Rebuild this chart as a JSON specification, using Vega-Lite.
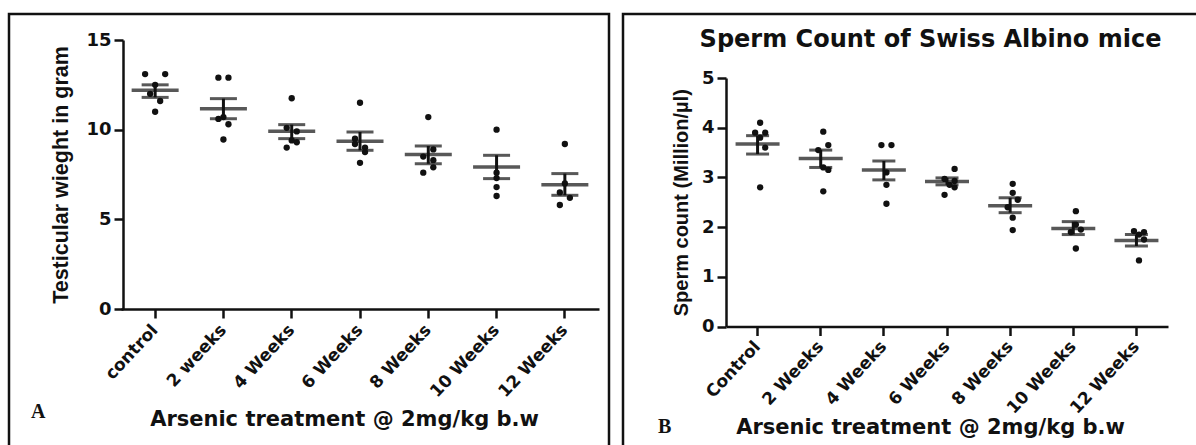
{
  "$schema": "https://vega.github.io/schema/vega-lite/v6.json",
  "background": "white",
  "padding": {"left": 7, "top": 12, "right": 0, "bottom": 0},
  "spacing": 10,
  "config": {
    "view": {"stroke": "#111", "strokeWidth": 2.5},
    "axis": {"grid": false, "domainColor": "#111", "domainWidth": 2.5, "tickColor": "#111", "tickWidth": 2.5, "tickSize": 9,
      "labelColor": "#111", "labelFont": "DejaVu Sans", "labelFontWeight": "bold", "labelFontSize": 17,
      "titleColor": "#111", "titleFont": "DejaVu Sans", "titleFontWeight": "bold", "titleFontSize": 21},
    "axisY": {"titleFont": "Liberation Sans", "titleFontSize": 20, "labelFontSize": 18, "labelPadding": 3},
    "title": {"color": "#111"}
  },
  "datasets": {
    "dotsA": [
      {"group": "control", "value": 13.1, "slot": -2}, {"group": "control", "value": 13.1, "slot": 2},
      {"group": "control", "value": 12.5, "slot": 0}, {"group": "control", "value": 12.0, "slot": -1},
      {"group": "control", "value": 11.6, "slot": 1}, {"group": "control", "value": 11.0, "slot": 0},
      {"group": "2 weeks", "value": 12.9, "slot": -1}, {"group": "2 weeks", "value": 12.9, "slot": 1},
      {"group": "2 weeks", "value": 10.7, "slot": 0}, {"group": "2 weeks", "value": 10.6, "slot": -1},
      {"group": "2 weeks", "value": 10.3, "slot": 1}, {"group": "2 weeks", "value": 9.45, "slot": 0},
      {"group": "4 Weeks", "value": 11.75, "slot": 0}, {"group": "4 Weeks", "value": 10.1, "slot": -1},
      {"group": "4 Weeks", "value": 9.9, "slot": 1}, {"group": "4 Weeks", "value": 9.4, "slot": 0},
      {"group": "4 Weeks", "value": 9.3, "slot": 1}, {"group": "4 Weeks", "value": 9.0, "slot": -1},
      {"group": "6 Weeks", "value": 11.5, "slot": 0}, {"group": "6 Weeks", "value": 9.5, "slot": -1},
      {"group": "6 Weeks", "value": 9.2, "slot": -1}, {"group": "6 Weeks", "value": 9.0, "slot": 1},
      {"group": "6 Weeks", "value": 8.75, "slot": 1}, {"group": "6 Weeks", "value": 8.15, "slot": 0},
      {"group": "8 Weeks", "value": 10.7, "slot": 0}, {"group": "8 Weeks", "value": 8.9, "slot": 1},
      {"group": "8 Weeks", "value": 8.5, "slot": -1}, {"group": "8 Weeks", "value": 8.3, "slot": 1},
      {"group": "8 Weeks", "value": 7.9, "slot": 1}, {"group": "8 Weeks", "value": 7.6, "slot": -1},
      {"group": "10 Weeks", "value": 10.0, "slot": 0}, {"group": "10 Weeks", "value": 7.6, "slot": 0},
      {"group": "10 Weeks", "value": 7.3, "slot": 0}, {"group": "10 Weeks", "value": 6.8, "slot": 0},
      {"group": "10 Weeks", "value": 6.3, "slot": 0},
      {"group": "12 Weeks", "value": 9.2, "slot": 0}, {"group": "12 Weeks", "value": 7.0, "slot": 0},
      {"group": "12 Weeks", "value": 6.5, "slot": -1}, {"group": "12 Weeks", "value": 6.2, "slot": 1},
      {"group": "12 Weeks", "value": 5.8, "slot": -1}
    ],
    "sumA": [
      {"group": "control", "mean": 12.2, "lo": 11.8, "hi": 12.5},
      {"group": "2 weeks", "mean": 11.17, "lo": 10.61, "hi": 11.73},
      {"group": "4 Weeks", "mean": 9.91, "lo": 9.5, "hi": 10.28},
      {"group": "6 Weeks", "mean": 9.35, "lo": 8.85, "hi": 9.87},
      {"group": "8 Weeks", "mean": 8.61, "lo": 8.1, "hi": 9.09},
      {"group": "10 Weeks", "mean": 7.92, "lo": 7.27, "hi": 8.57},
      {"group": "12 Weeks", "mean": 6.93, "lo": 6.34, "hi": 7.55}
    ],
    "dotsB": [
      {"group": "Control", "value": 4.1, "slot": 0}, {"group": "Control", "value": 3.9, "slot": -1},
      {"group": "Control", "value": 3.9, "slot": 1}, {"group": "Control", "value": 3.8, "slot": 0},
      {"group": "Control", "value": 3.6, "slot": 1}, {"group": "Control", "value": 2.8, "slot": 0},
      {"group": "2 Weeks", "value": 3.92, "slot": 0}, {"group": "2 Weeks", "value": 3.65, "slot": 1},
      {"group": "2 Weeks", "value": 3.55, "slot": -1}, {"group": "2 Weeks", "value": 3.2, "slot": 0},
      {"group": "2 Weeks", "value": 3.15, "slot": 1}, {"group": "2 Weeks", "value": 2.72, "slot": 0},
      {"group": "4 Weeks", "value": 3.65, "slot": -1}, {"group": "4 Weeks", "value": 3.65, "slot": 1},
      {"group": "4 Weeks", "value": 3.1, "slot": 0}, {"group": "4 Weeks", "value": 2.85, "slot": 0},
      {"group": "4 Weeks", "value": 2.47, "slot": 0},
      {"group": "6 Weeks", "value": 3.17, "slot": 1}, {"group": "6 Weeks", "value": 2.97, "slot": -1},
      {"group": "6 Weeks", "value": 2.93, "slot": 1}, {"group": "6 Weeks", "value": 2.85, "slot": 0},
      {"group": "6 Weeks", "value": 2.8, "slot": 1}, {"group": "6 Weeks", "value": 2.65, "slot": -1},
      {"group": "8 Weeks", "value": 2.87, "slot": 0}, {"group": "8 Weeks", "value": 2.69, "slot": 0},
      {"group": "8 Weeks", "value": 2.55, "slot": 1}, {"group": "8 Weeks", "value": 2.4, "slot": -1},
      {"group": "8 Weeks", "value": 2.19, "slot": 0}, {"group": "8 Weeks", "value": 1.94, "slot": 0},
      {"group": "10 Weeks", "value": 2.32, "slot": 0}, {"group": "10 Weeks", "value": 2.05, "slot": 0},
      {"group": "10 Weeks", "value": 1.95, "slot": 1}, {"group": "10 Weeks", "value": 1.9, "slot": -1},
      {"group": "10 Weeks", "value": 1.57, "slot": 0},
      {"group": "12 Weeks", "value": 1.92, "slot": -1}, {"group": "12 Weeks", "value": 1.9, "slot": 1},
      {"group": "12 Weeks", "value": 1.85, "slot": 0}, {"group": "12 Weeks", "value": 1.75, "slot": 1},
      {"group": "12 Weeks", "value": 1.33, "slot": 0}
    ],
    "sumB": [
      {"group": "Control", "mean": 3.67, "lo": 3.47, "hi": 3.84},
      {"group": "2 Weeks", "mean": 3.38, "lo": 3.2, "hi": 3.55},
      {"group": "4 Weeks", "mean": 3.15, "lo": 2.95, "hi": 3.33},
      {"group": "6 Weeks", "mean": 2.92, "lo": 2.85, "hi": 2.99},
      {"group": "8 Weeks", "mean": 2.43, "lo": 2.29, "hi": 2.59},
      {"group": "10 Weeks", "mean": 1.97, "lo": 1.85, "hi": 2.11},
      {"group": "12 Weeks", "mean": 1.73, "lo": 1.62, "hi": 1.85}
    ]
  },
  "hconcat": [
    {
      "width": 600,
      "height": 448,
      "title": {"text": "A", "orient": "bottom", "anchor": "start", "frame": "group", "offset": -60, "dx": 22,
        "font": "Liberation Serif", "fontSize": 20, "fontWeight": "bold"},
      "encoding": {
        "x": {"field": "group", "type": "nominal", "sort": null,
          "scale": {"type": "band", "domain": ["control", "2 weeks", "4 Weeks", "6 Weeks", "8 Weeks", "10 Weeks", "12 Weeks"], "range": [112, 590], "paddingInner": 0, "paddingOuter": 0},
          "axis": {"offset": -153, "labelAngle": -47, "labelAlign": "right", "labelBaseline": "middle", "labelPadding": 9,
            "title": "Arsenic treatment @ 2mg/kg b.w", "titleX": 335, "titleY": 116, "titleBaseline": "alphabetic"}}
      },
      "layer": [
        {
          "data": {"name": "dotsA"},
          "mark": {"type": "circle", "size": 40, "color": "#111", "opacity": 1},
          "encoding": {
            "xOffset": {"field": "slot", "type": "quantitative", "scale": {"domain": [-6.8, 6.8]}},
            "y": {"field": "value", "type": "quantitative", "scale": {"domain": [0, 15], "range": [295, 26], "nice": false, "zero": false},
              "axis": {"offset": -114, "values": [0, 5, 10, 15], "title": "Testicular wieght in gram", "titlePadding": 13, "titleFontSize": 21.5}}
          }
        },
        {
          "data": {"name": "sumA"},
          "mark": {"type": "tick", "size": 47, "thickness": 3.5, "color": "#111"},
          "encoding": {"y": {"field": "mean", "type": "quantitative", "scale": {"domain": [0, 15], "range": [295, 26], "nice": false, "zero": false},
            "axis": {"offset": -114, "values": [0, 5, 10, 15], "title": "Testicular wieght in gram", "titlePadding": 13, "titleFontSize": 21.5}}}
        },
        {
          "data": {"name": "sumA"},
          "mark": {"type": "rule", "strokeWidth": 3, "color": "#111"},
          "encoding": {"y": {"field": "lo", "type": "quantitative", "scale": {"domain": [0, 15], "range": [295, 26], "nice": false, "zero": false},
            "axis": {"offset": -114, "values": [0, 5, 10, 15], "title": "Testicular wieght in gram", "titlePadding": 13, "titleFontSize": 21.5}}, "y2": {"field": "hi"}}
        },
        {
          "data": {"name": "sumA"},
          "mark": {"type": "tick", "size": 27, "thickness": 3, "color": "#111"},
          "encoding": {"y": {"field": "lo", "type": "quantitative", "scale": {"domain": [0, 15], "range": [295, 26], "nice": false, "zero": false},
            "axis": {"offset": -114, "values": [0, 5, 10, 15], "title": "Testicular wieght in gram", "titlePadding": 13, "titleFontSize": 21.5}}}
        },
        {
          "data": {"name": "sumA"},
          "mark": {"type": "tick", "size": 27, "thickness": 3, "color": "#111"},
          "encoding": {"y": {"field": "hi", "type": "quantitative", "scale": {"domain": [0, 15], "range": [295, 26], "nice": false, "zero": false},
            "axis": {"offset": -114, "values": [0, 5, 10, 15], "title": "Testicular wieght in gram", "titlePadding": 13, "titleFontSize": 21.5}}}
        }
      ]
    },
    {
      "title": {"text": "B", "orient": "bottom", "anchor": "start", "frame": "group", "offset": -46, "dx": 35,
        "font": "Liberation Serif", "fontSize": 20, "fontWeight": "bold"},
      "vconcat": [
        {
          "width": 585,
          "height": 448,
          "title": {"text": "Sperm Count of  Swiss Albino mice", "orient": "top", "anchor": "middle", "frame": "group", "offset": -38, "dx": 15,
            "font": "DejaVu Sans", "fontSize": 24, "fontWeight": "bold"},
          "encoding": {
            "x": {"field": "group", "type": "nominal", "sort": null,
              "scale": {"type": "band", "domain": ["Control", "2 Weeks", "4 Weeks", "6 Weeks", "8 Weeks", "10 Weeks", "12 Weeks"], "range": [103, 545], "paddingInner": 0, "paddingOuter": 0},
              "axis": {"offset": -135.5, "labelAngle": -47, "labelAlign": "right", "labelBaseline": "middle", "labelPadding": 8,
                "title": "Arsenic treatment @ 2mg/kg b.w", "titleX": 307, "titleY": 107, "titleBaseline": "alphabetic"}}
          },
          "layer": [
            {
              "data": {"name": "dotsB"},
              "mark": {"type": "circle", "size": 40, "color": "#111", "opacity": 1},
              "encoding": {
                "xOffset": {"field": "slot", "type": "quantitative", "scale": {"domain": [-6.3, 6.3]}},
                "y": {"field": "value", "type": "quantitative", "scale": {"domain": [0, 5], "range": [312.5, 64], "nice": false, "zero": false},
                  "axis": {"offset": -103, "values": [0, 1, 2, 3, 4, 5], "title": "Sperm count (Million/µl)", "titlePadding": 10}}
              }
            },
            {
              "data": {"name": "sumB"},
              "mark": {"type": "tick", "size": 44, "thickness": 3.5, "color": "#111"},
              "encoding": {"y": {"field": "mean", "type": "quantitative", "scale": {"domain": [0, 5], "range": [312.5, 64], "nice": false, "zero": false},
                "axis": {"offset": -103, "values": [0, 1, 2, 3, 4, 5], "title": "Sperm count (Million/µl)", "titlePadding": 10}}}
            },
            {
              "data": {"name": "sumB"},
              "mark": {"type": "rule", "strokeWidth": 3, "color": "#111"},
              "encoding": {"y": {"field": "lo", "type": "quantitative", "scale": {"domain": [0, 5], "range": [312.5, 64], "nice": false, "zero": false},
                "axis": {"offset": -103, "values": [0, 1, 2, 3, 4, 5], "title": "Sperm count (Million/µl)", "titlePadding": 10}}, "y2": {"field": "hi"}}
            },
            {
              "data": {"name": "sumB"},
              "mark": {"type": "tick", "size": 23, "thickness": 3, "color": "#111"},
              "encoding": {"y": {"field": "lo", "type": "quantitative", "scale": {"domain": [0, 5], "range": [312.5, 64], "nice": false, "zero": false},
                "axis": {"offset": -103, "values": [0, 1, 2, 3, 4, 5], "title": "Sperm count (Million/µl)", "titlePadding": 10}}}
            },
            {
              "data": {"name": "sumB"},
              "mark": {"type": "tick", "size": 23, "thickness": 3, "color": "#111"},
              "encoding": {"y": {"field": "hi", "type": "quantitative", "scale": {"domain": [0, 5], "range": [312.5, 64], "nice": false, "zero": false},
                "axis": {"offset": -103, "values": [0, 1, 2, 3, 4, 5], "title": "Sperm count (Million/µl)", "titlePadding": 10}}}
            }
          ]
        }
      ]
    }
  ]
}
